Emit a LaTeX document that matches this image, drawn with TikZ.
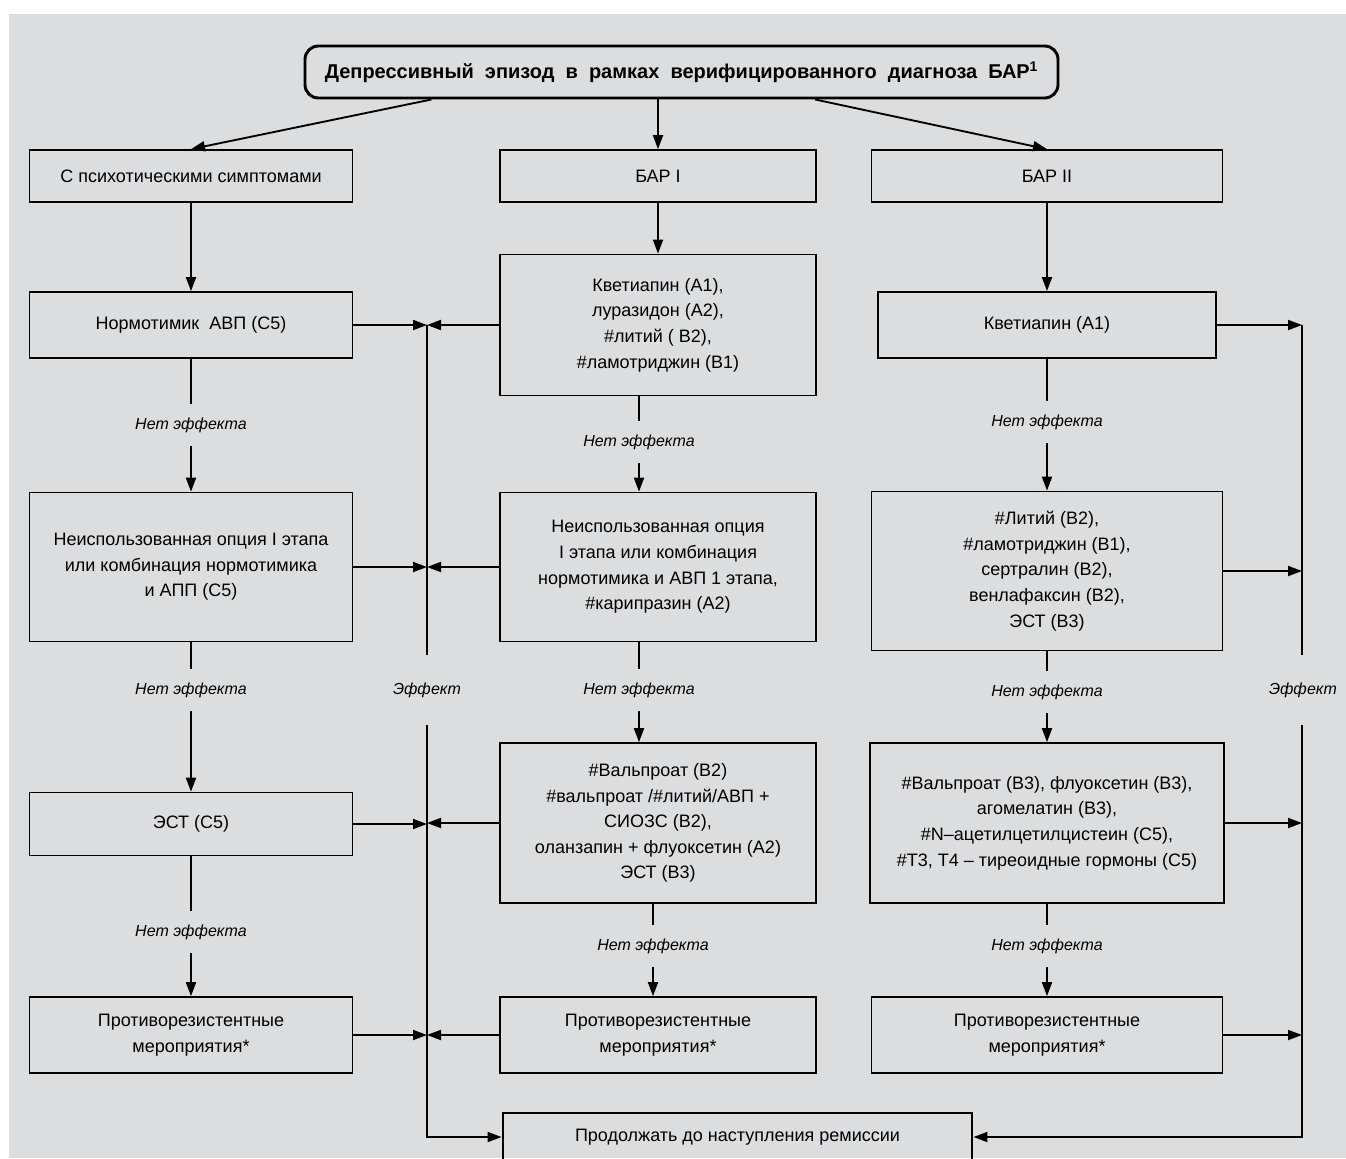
\documentclass[tikz,border=0pt]{standalone}
\usepackage{fontspec}
\setmainfont{Liberation Sans}
\usetikzlibrary{arrows.meta,calc}

\definecolor{bgGrey}{RGB}{220,221,223}
\tikzset{every picture/.style={line width=0.75pt}}
\tikzset{
  box/.style={draw, line width=1.3pt, align=center, inner sep=2pt,
    font=\fontsize{13.5}{19.2}\selectfont},
  mainbox/.style={box, line width=2.2pt},
  noeff/.style={font=\fontsize{12}{15}\selectfont\itshape, inner xsep=2pt, inner ysep=10pt},
  lnk/.style={line width=1.4pt},
  arr/.style={lnk, -{Triangle[length=10.5pt,width=7.5pt]}},
}

\begin{document}
\begin{tikzpicture}[x=0.75pt,y=0.75pt,yscale=-1,xscale=1]
\useasboundingbox (0,0) rectangle (1346,1158);
%Shape: Background
\fill [bgGrey] (9,14) rectangle (1346,1158);

%Shape: Title
\node [mainbox, rounded corners=10pt, minimum width=564.75pt, minimum height=39pt,
  font=\fontsize{15}{17}\selectfont\bfseries] (title) at (681.5,72)
  {Депрессивный\ \ эпизод\ \ в\ \ рамках\ \ верифицированного\ \ диагноза\ \ БАР\textsuperscript{1}};

% Left column
\node [box, minimum width=242.25pt, minimum height=39pt] (L1) at (191,176) {С психотическими симптомами};
\node [box, minimum width=242.25pt, minimum height=49.5pt] (L2) at (191,325) {Нормотимик \ АВП (С5)};
\node [box, minimum width=242.25pt, minimum height=111.75pt] (L3) at (191,567)
  {Неиспользованная опция I этапа\\или комбинация нормотимика\\и АПП (С5)};
\node [box, minimum width=242.25pt, minimum height=47.25pt] (L4) at (191,824) {ЭСТ (С5)};
\node [box, minimum width=242.25pt, minimum height=57pt] (L5) at (191,1035) {Противорезистентные\\мероприятия*};

% Middle column
\node [box, minimum width=237pt, minimum height=39pt] (M1) at (658,176) {БАР I};
\node [box, minimum width=237pt, minimum height=105.75pt] (M2) at (658,325)
  {Кветиапин (А1),\\луразидон (А2),\\\#литий ( В2),\\\#ламотриджин (В1)};
\node [box, minimum width=237pt, minimum height=111.75pt] (M3) at (658,567)
  {Неиспользованная опция\\I этапа или комбинация\\нормотимика и АВП 1 этапа,\\\#карипразин (А2)};
\node [box, minimum width=237pt, minimum height=120pt] (M4) at (658,823)
  {\#Вальпроат (В2)\\\#вальпроат /\#литий/АВП +\\СИОЗС (В2),\\оланзапин + флуоксетин (А2)\\ЭСТ (В3)};
\node [box, minimum width=237pt, minimum height=57pt] (M5) at (658,1035) {Противорезистентные\\мероприятия*};

% Right column
\node [box, minimum width=263.25pt, minimum height=39pt] (R1) at (1047,176) {БАР II};
\node [box, minimum width=253.5pt, minimum height=49.5pt] (R2) at (1047,325) {Кветиапин (А1)};
\node [box, minimum width=263.25pt, minimum height=119.25pt] (R3) at (1047,571)
  {\#Литий (В2),\\\#ламотриджин (В1),\\сертралин (В2),\\венлафаксин (В2),\\ЭСТ (В3)};
\node [box, minimum width=265.5pt, minimum height=120pt] (R4) at (1047,823)
  {\#Вальпроат (В3), флуоксетин (В3),\\агомелатин (В3),\\\#N–ацетилцетилцистеин (С5),\\\#Т3, Т4 – тиреоидные гормоны (С5)};
\node [box, minimum width=263.25pt, minimum height=57pt] (R5) at (1047,1035) {Противорезистентные\\мероприятия*};

%Shape: Final
\node [mainbox, minimum width=351.75pt, minimum height=36pt] (fin) at (737.5,1137) {Продолжать до наступления ремиссии};

% Text Node
\node [noeff] (nL1) at (191,425) {Нет эффекта};
\node [noeff] (nL2) at (191,690) {Нет эффекта};
\node [noeff] (nL3) at (191,932) {Нет эффекта};
\node [noeff] (nM1) at (639,442) {Нет эффекта};
\node [noeff] (nM2) at (639,690) {Нет эффекта};
\node [noeff] (nM3) at (653,946) {Нет эффекта};
\node [noeff] (nR1) at (1047,422) {Нет эффекта};
\node [noeff] (nR2) at (1047,692) {Нет эффекта};
\node [noeff] (nR3) at (1047,946) {Нет эффекта};
\node [noeff, inner ysep=20pt] (effL) at (427,690) {Эффект};
\node [noeff, inner ysep=20pt] (effR) at (1303,690) {Эффект};

\coordinate (eL) at (427,325);
\coordinate (eR) at (1302,325);

%Straight Lines
\draw [arr] ($(title.south)+(-250,0)$) -- (L1.north);
\draw [arr] (title.south -| M1.north) -- (M1.north);
\draw [arr] ($(title.south)+(133.5,0)$) -- (R1.north);

\draw [arr] (L1) -- (L2);
\draw [lnk] (L2.south -| nL1) -- (nL1.north);
\draw [arr] (nL1.south) -- (nL1.south |- L3.north);
\draw [lnk] (L3.south -| nL2) -- (nL2.north);
\draw [arr] (nL2.south) -- (nL2.south |- L4.north);
\draw [lnk] (L4.south -| nL3) -- (nL3.north);
\draw [arr] (nL3.south) -- (nL3.south |- L5.north);

\draw [arr] (M1) -- (M2);
\draw [lnk] (M2.south -| nM1) -- (nM1.north);
\draw [arr] (nM1.south) -- (nM1.south |- M3.north);
\draw [lnk] (M3.south -| nM2) -- (nM2.north);
\draw [arr] (nM2.south) -- (nM2.south |- M4.north);
\draw [lnk] (M4.south -| nM3) -- (nM3.north);
\draw [arr] (nM3.south) -- (nM3.south |- M5.north);

\draw [arr] (R1) -- (R2);
\draw [lnk] (R2.south -| nR1) -- (nR1.north);
\draw [arr] (nR1.south) -- (nR1.south |- R3.north);
\draw [lnk] (R3.south -| nR2) -- (nR2.north);
\draw [arr] (nR2.south) -- (nR2.south |- R4.north);
\draw [lnk] (R4.south -| nR3) -- (nR3.north);
\draw [arr] (nR3.south) -- (nR3.south |- R5.north);

% Effect lines
\foreach \a/\b in {L2/M2, L3/M3, L4/M4, L5/M5} {
  \draw [arr] (\a.east) -- (\a.east -| eL);
  \draw [arr] (\b.west) -- (\b.west -| eL);
}
\foreach \a in {R2, R3, R4, R5} {
  \draw [arr] (\a.east) -- (\a.east -| eR);
}
\draw [lnk] (eL) -- (eL |- effL.north);
\draw [arr] (eL |- effL.south) |- (fin.west);
\draw [lnk] (eR) -- (eR |- effR.north);
\draw [arr] (eR |- effR.south) |- (fin.east);

\end{tikzpicture}
\end{document}
